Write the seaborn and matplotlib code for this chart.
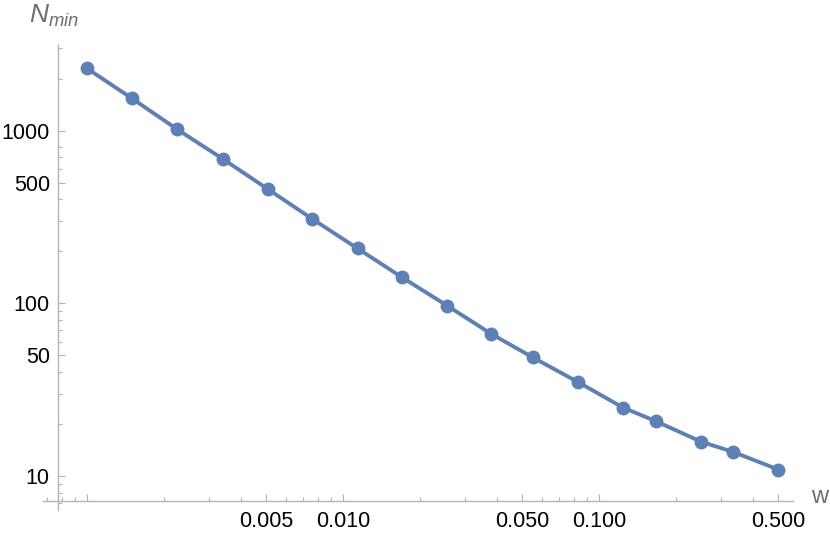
import matplotlib
matplotlib.use("Agg")
import matplotlib.pyplot as plt
from matplotlib.ticker import FixedLocator, FixedFormatter, NullFormatter
import seaborn as sns
import pandas as pd

#------ data ------
w = [0.001, 0.0015, 0.00225, 0.0034, 0.0051, 0.0076, 0.0114, 0.017, 0.0255,
     0.038, 0.055, 0.083, 0.124, 0.166, 0.25, 0.333, 0.5]
n_min = [2300, 1540, 1020, 686, 458, 308, 208, 141.5, 97, 66.4,
         48.7, 34.9, 24.9, 20.8, 15.8, 13.8, 10.9]

x_major = [0.001, 0.005, 0.01, 0.05, 0.1, 0.5]
x_labels = ["", "0.005", "0.010", "0.050", "0.100", "0.500"]
x_minor = [0.0007, 0.0008, 0.0009, 0.002, 0.003, 0.004, 0.006, 0.007, 0.008, 0.009,
           0.02, 0.03, 0.04, 0.06, 0.07, 0.08, 0.09, 0.2, 0.3, 0.4]
y_major = [10, 50, 100, 500, 1000]
y_labels = ["10", "50", "100", "500", "1000"]
y_minor = [7, 8, 9, 20, 30, 40, 60, 70, 80, 90, 200, 300, 400, 600, 700, 800, 2000, 3000]

df = pd.DataFrame({"w": w, "N": n_min})

#------ style ------
sns.set_style("white")
plt.rcParams["font.family"] = ["Liberation Sans", "DejaVu Sans"]
plt.rcParams["mathtext.fontset"] = "custom"
plt.rcParams["mathtext.it"] = "Liberation Sans:italic"
plt.rcParams["mathtext.rm"] = "Liberation Sans"

axis_col = "#b4b4b4"
line_col = "#5e81b5"

fig = plt.figure(figsize=(8.3, 5.4), dpi=100)
ax = fig.add_axes([43 / 830, 30 / 540, 750 / 830, 465 / 540])

sns.lineplot(data=df, x="w", y="N", marker="o", color=line_col, linewidth=2.8,
             markersize=10, markeredgewidth=0, ax=ax, clip_on=False)

ax.set_xscale("log")
ax.set_yscale("log")
ax.set_xlim(0.000675, 0.571)
ax.set_ylim(6.355, 3136)

# Mathematica-like crossing axes
ax.spines["left"].set_position(("data", 0.000769))
ax.spines["bottom"].set_position(("data", 7.165))
ax.spines["top"].set_visible(False)
ax.spines["right"].set_visible(False)
for s in ["left", "bottom"]:
    ax.spines[s].set_color(axis_col)
    ax.spines[s].set_linewidth(1.0)

ax.xaxis.set_major_locator(FixedLocator(x_major))
ax.xaxis.set_major_formatter(FixedFormatter(x_labels))
ax.xaxis.set_minor_locator(FixedLocator(x_minor))
ax.xaxis.set_minor_formatter(NullFormatter())
ax.yaxis.set_major_locator(FixedLocator(y_major))
ax.yaxis.set_major_formatter(FixedFormatter(y_labels))
ax.yaxis.set_minor_locator(FixedLocator(y_minor))
ax.yaxis.set_minor_formatter(NullFormatter())

ax.tick_params(which="major", direction="in", length=5.2, width=0.8, color=axis_col,
               labelsize=15.5, labelcolor="black")
ax.tick_params(which="minor", direction="in", length=3, width=0.8, color=axis_col)
ax.tick_params(axis="x", which="major", pad=7)
ax.tick_params(axis="y", which="major", pad=5.5)
ax.tick_params(bottom=True, left=True, which="both")

ax.set_xlabel("")
ax.set_ylabel("")

# axis labels
fig.text(29 / 830, 1 - 16 / 540, r"$N_{min}$", fontsize=19, color="#6e6e6e", va="center", ha="left")
fig.text(811 / 830, 1 - 497 / 540, "w", fontsize=17, color="#6e6e6e", va="center", ha="left")

fig.savefig("out.png", dpi=100)
